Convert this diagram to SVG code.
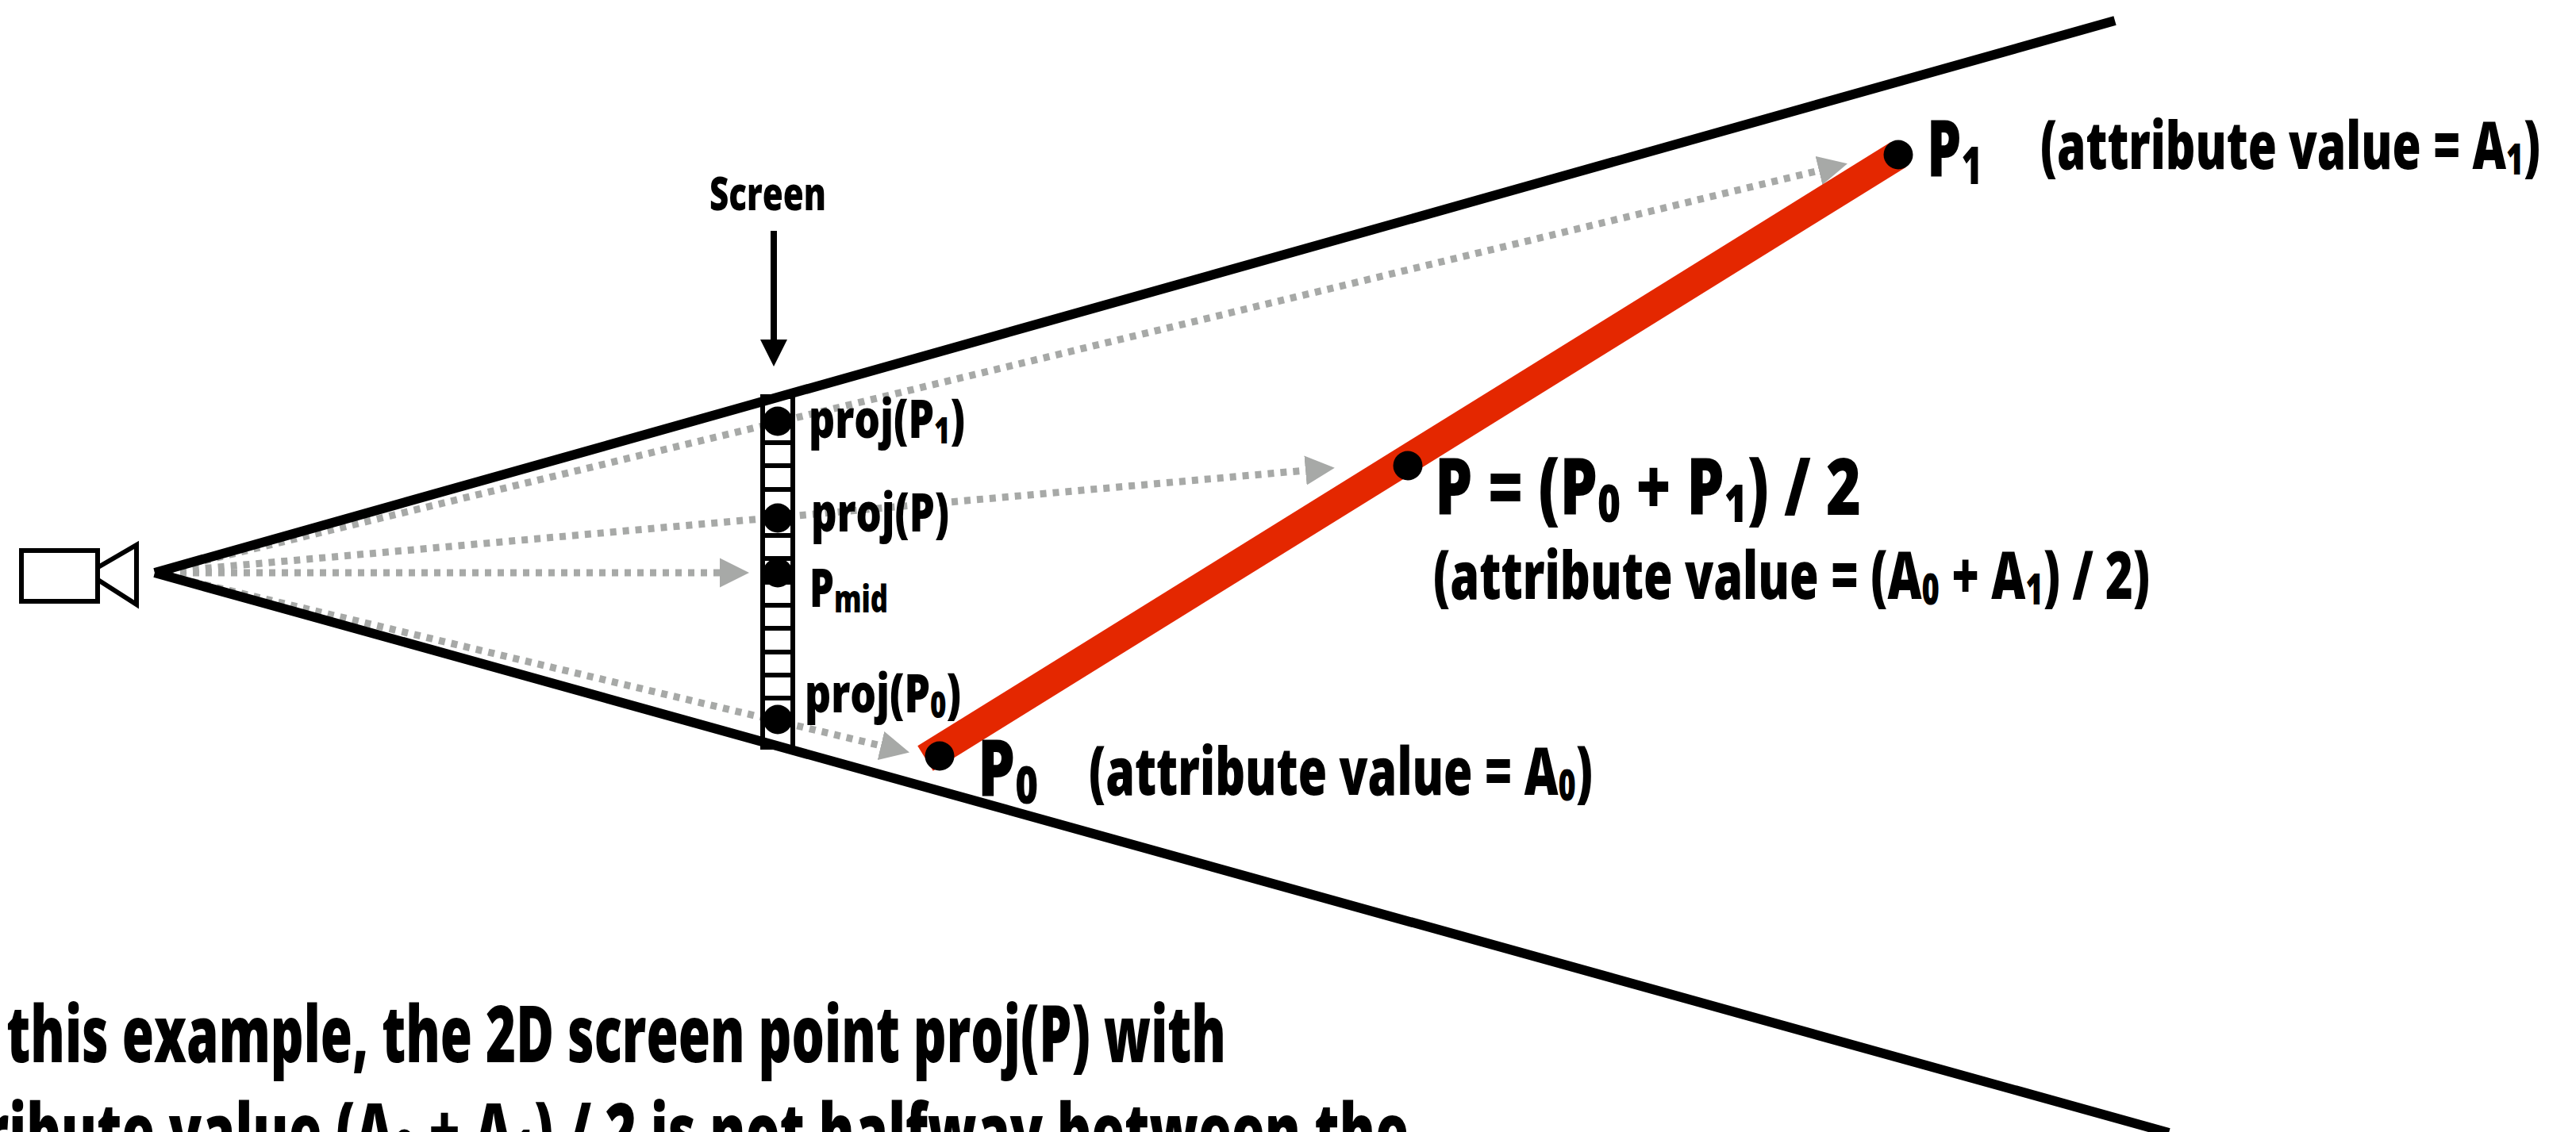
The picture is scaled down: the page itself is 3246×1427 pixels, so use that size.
<svg xmlns="http://www.w3.org/2000/svg" width="3246" height="1427" viewBox="0 0 3246 1427">
<style>
text{font-family:"Open Sans","Noto Sans","Liberation Sans",sans-serif;font-weight:800;fill:#000}
.s{font-size:68px}.m{font-size:84px}.l{font-size:100px}
.ray{fill:none;stroke:#a7a9a7;stroke-width:9;stroke-dasharray:8 8;marker-end:url(#ga)}
.edge{fill:none;stroke:#000;stroke-width:12}
.thin{fill:none;stroke:#000;stroke-width:6}
</style>
<defs>
<marker id="ga" markerUnits="userSpaceOnUse" markerWidth="38" markerHeight="38" refX="0" refY="19" orient="auto" viewBox="0 0 38 38"><path d="M0,0.5L37,19L0,37.5Z" fill="#a7a9a7"/></marker>
<marker id="ba" markerUnits="userSpaceOnUse" markerWidth="36" markerHeight="36" refX="0" refY="18" orient="auto" viewBox="0 0 36 36"><path d="M0,1L34,18L0,35Z" fill="#000"/></marker>
</defs>
<rect width="3246" height="1427" fill="#fff"/>
<g id="connectors">
<line class="ray" x1="195" y1="722" x2="2292" y2="215"/>
<line class="ray" x1="195" y1="722" x2="1645" y2="593"/>
<line class="ray" x1="195" y1="722" x2="907" y2="722"/>
<line class="ray" x1="195" y1="722" x2="1110" y2="940"/>
<line x1="975" y1="291" x2="975" y2="428" stroke="#000" stroke-width="8" marker-end="url(#ba)"/>
</g>
<g id="screen">
<rect class="thin" x="961" y="500" width="38" height="442"/>
<path class="thin" d="M961,558H999M961,587H999M961,617H999M961,646H999M961,675H999M961,704H999M961,734H999M961,763H999M961,792H999M961,822H999M961,851H999M961,880H999"/>
</g>
<g id="frustum">
<line class="edge" x1="195" y1="722" x2="2665" y2="26"/>
<line class="edge" x1="195" y1="722" x2="2733" y2="1428"/>
</g>
<g id="segment"><line x1="1166" y1="956" x2="2392" y2="195" stroke="#e42700" stroke-width="37"/></g>
<g id="camera">
<rect class="thin" x="27" y="694" width="96" height="64"/>
<path class="thin" d="M122,716L172,687V762L122,730"/>
</g>
<g id="points">
<circle cx="980" cy="531" r="18.5"/>
<circle cx="980" cy="653" r="18.5"/>
<circle cx="980" cy="722" r="18.5"/>
<circle cx="980" cy="907" r="18.5"/>
<circle cx="1184" cy="953" r="18.5"/>
<circle cx="1774" cy="587" r="18.5"/>
<circle cx="2392" cy="195" r="18.5"/>
</g>
<g id="labels">
<text id="t-screen" x="894" y="265" font-size="58" textLength="147" lengthAdjust="spacingAndGlyphs">Screen</text>
<text class="s" x="1019" y="552" textLength="197" lengthAdjust="spacingAndGlyphs">proj(P<tspan font-size="46" dy="7">1</tspan><tspan dy="-7">)</tspan></text>
<text class="s" x="1022" y="670" textLength="174" lengthAdjust="spacingAndGlyphs">proj(P)</text>
<text class="s" x="1020" y="765" textLength="99" lengthAdjust="spacingAndGlyphs">P<tspan font-size="48" dy="7">mid</tspan></text>
<text class="s" x="1014" y="898" textLength="197" lengthAdjust="spacingAndGlyphs">proj(P<tspan font-size="46" dy="7">0</tspan><tspan dy="-7">)</tspan></text>
<text class="l" x="1232" y="1004" textLength="76" lengthAdjust="spacingAndGlyphs">P<tspan font-size="66" dy="9">0</tspan></text>
<text class="l" x="2428" y="223" textLength="70" lengthAdjust="spacingAndGlyphs">P<tspan font-size="66" dy="9">1</tspan></text>
<text class="m" x="2571" y="213" textLength="630" lengthAdjust="spacingAndGlyphs">(attribute value = A<tspan font-size="54" dy="7">1</tspan><tspan dy="-7">)</tspan></text>
<text class="m" x="1372" y="1002" textLength="635" lengthAdjust="spacingAndGlyphs">(attribute value = A<tspan font-size="54" dy="7">0</tspan><tspan dy="-7">)</tspan></text>
<text class="l" x="1808" y="649" textLength="537" lengthAdjust="spacingAndGlyphs">P = (P<tspan font-size="66" dy="9">0</tspan><tspan dy="-9"> + P</tspan><tspan font-size="66" dy="9">1</tspan><tspan dy="-9">) / 2</tspan></text>
<text class="m" x="1806" y="755" textLength="903" lengthAdjust="spacingAndGlyphs">(attribute value = (A<tspan font-size="54" dy="7">0</tspan><tspan dy="-7"> + A</tspan><tspan font-size="54" dy="7">1</tspan><tspan dy="-7">) / 2)</tspan></text>
<text class="l" x="-75" y="1339" textLength="1620" lengthAdjust="spacingAndGlyphs">In this example, the 2D screen point proj(P) with</text>
<text class="l" x="-125" y="1462" textLength="1900" lengthAdjust="spacingAndGlyphs">attribute value (A<tspan font-size="66" dy="9">0</tspan><tspan dy="-9"> + A</tspan><tspan font-size="66" dy="9">1</tspan><tspan dy="-9">) / 2 is not halfway between the</tspan></text>
</g>
</svg>
